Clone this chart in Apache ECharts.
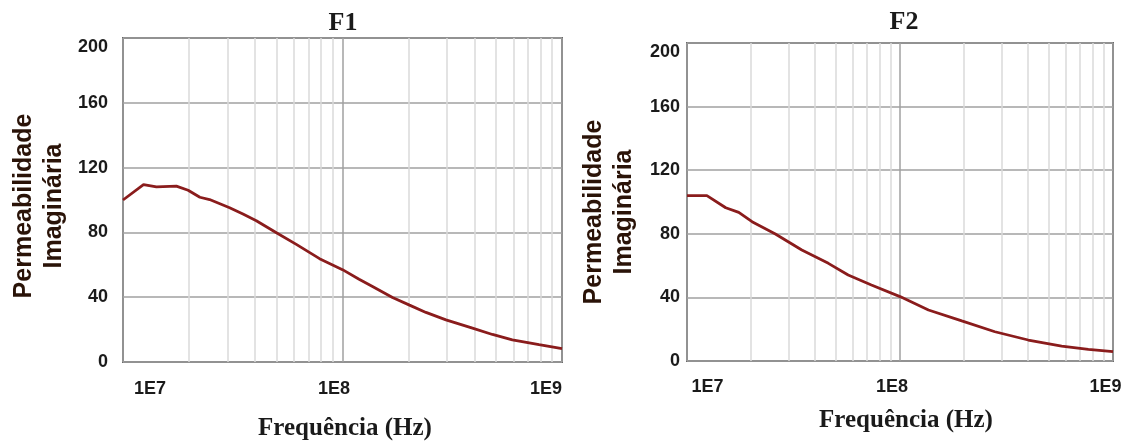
<!DOCTYPE html>
<html>
<head>
<meta charset="utf-8">
<script src="https://cdn.jsdelivr.net/npm/echarts@6/dist/echarts.min.js"></script>
<style>
html,body{margin:0;padding:0;background:#fff;}
#chart{width:1132px;height:446px;}
</style>
</head>
<body>
<div id="chart"></div>
<script>
// ---- data (frequency in Hz, imaginary permeability) ----
const F1_FREQ   = [1.0e7, 1.24e7, 1.42e7, 1.75e7, 1.98e7, 2.24e7, 2.48e7, 3.06e7, 3.52e7, 4.05e7, 5.0e7, 6.16e7, 7.86e7, 1.0e8, 1.19e8, 1.37e8, 1.69e8, 2.02e8, 2.4e8, 2.96e8, 3.91e8, 4.82e8, 5.94e8, 7.86e8, 1.0e9];
const F1_VALUES = [100,   109.5,  108.1,  108.6,  106,    101.7,  100.3,  95.2,   91.3,   87.2,   79.8,  72.6,   63.8,   57.0,  51.1,   46.6,   39.8,   35.1,   30.6,  26.0,   20.9,   17.0,   13.7,   10.7,   8.3];
const F2_FREQ   = [1.0e7, 1.24e7, 1.52e7, 1.75e7, 2.02e7, 2.6e7, 3.46e7, 4.61e7, 5.71e7, 7.34e7, 1.0e8, 1.36e8, 1.95e8, 2.79e8, 4.0e8, 5.74e8, 7.66e8, 1.0e9];
const F2_VALUES = [104,   104,    96.4,   93.5,   87.6,   79.9,  69.8,   61.4,   54.1,   47.8,   40.5,  32.1,   25.2,   18.4,   13.2,  9.4,    7.3,    5.9];
const MINOR_FREQS = [2e7, 3e7, 4e7, 5e7, 6e7, 7e7, 8e7, 9e7, 2e8, 3e8, 4e8, 5e8, 6e8, 7e8, 8e8, 9e8];
const X_TICK_LABELS = ['1E7', '1E8', '1E9'];
const Y_TICKS = [0, 40, 80, 120, 160, 200];
const TITLES = ['F1', 'F2'];
const X_NAME = 'Frequência (Hz)';
const Y_NAME = 'Permeabilidade\nImaginária';

const LINE_COLOR = '#8a1c1c';
const TXT = '#1a1a1a';
const labelFont = {fontFamily: 'Liberation Sans', fontWeight: 'bold', fontSize: 18, color: TXT};

function pair(xs, ys) { return xs.map((x, i) => [x, ys[i]]); }

function richFor(shifts) {
  const r = {};
  shifts.forEach((s, i) => {
    r['t' + i] = Object.assign({}, labelFont, {padding: s >= 0 ? [0, 0, 0, 2 * s] : [0, -2 * s, 0, 0]});
  });
  return r;
}

function xAxisFor(g, shifts, labelMargin, nameGap, namePad) {
  return {
    gridIndex: g, type: 'log', logBase: 10, min: 1e7, max: 1e9,
    axisLine: {show: false}, axisTick: {show: false},
    splitLine: {show: true, lineStyle: {color: '#a0a0a0', width: 1.5}},
    axisLabel: {
      margin: labelMargin, showMinLabel: true, showMaxLabel: true,
      formatter: function (v) {
        const i = Math.round(Math.log10(v)) - 7;
        return '{t' + i + '|' + X_TICK_LABELS[i] + '}';
      },
      rich: richFor(shifts)
    },
    name: X_NAME, nameLocation: 'middle', nameGap: nameGap,
    nameTextStyle: {fontFamily: 'Liberation Serif', fontWeight: 'bold', fontSize: 25, color: TXT, padding: namePad}
  };
}

function yAxisFor(g, margin, nameGap, namePad) {
  return {
    gridIndex: g, type: 'value', min: Y_TICKS[0], max: Y_TICKS[Y_TICKS.length - 1], interval: 40,
    axisLine: {show: false}, axisTick: {show: false},
    splitLine: {show: true, lineStyle: {color: '#a0a0a0', width: 1.5}},
    axisLabel: Object.assign({margin: margin, verticalAlignMaxLabel: 'top', showMinLabel: true, showMaxLabel: true}, labelFont),
    name: Y_NAME, nameLocation: 'middle', nameRotate: 90, nameGap: nameGap,
    nameTextStyle: {fontFamily: 'Liberation Sans', fontWeight: 'bold', fontSize: 25, lineHeight: 30, color: '#2a1308', padding: namePad}
  };
}

function seriesFor(g, xs, ys) {
  return {
    type: 'line', xAxisIndex: g, yAxisIndex: g, z: 3,
    data: pair(xs, ys), showSymbol: false, symbol: 'none',
    lineStyle: {color: LINE_COLOR, width: 2.8}, itemStyle: {color: LINE_COLOR},
    markLine: {
      silent: true, symbol: 'none', z: 1, animation: false,
      label: {show: false},
      lineStyle: {color: '#dadada', width: 1.5, type: 'solid'},
      data: MINOR_FREQS.map(f => ({xAxis: f}))
    }
  };
}

const chart = echarts.init(document.getElementById('chart'), null, {renderer: 'canvas'});
chart.setOption({
  animation: false,
  backgroundColor: '#ffffff',
  title: [
    {text: TITLES[0], left: 343, top: 10, textAlign: 'center', padding: 0,
     textStyle: {fontFamily: 'Liberation Serif', fontWeight: 'bold', fontSize: 26, color: TXT}},
    {text: TITLES[1], left: 904, top: 9, textAlign: 'center', padding: 0,
     textStyle: {fontFamily: 'Liberation Serif', fontWeight: 'bold', fontSize: 26, color: TXT}}
  ],
  grid: [
    {left: 123, top: 38, width: 439, height: 325, show: true, borderColor: '#6a6a6a', borderWidth: 2, backgroundColor: '#fff'},
    {left: 687, top: 43, width: 426, height: 318, show: true, borderColor: '#6a6a6a', borderWidth: 2, backgroundColor: '#fff'}
  ],
  xAxis: [
    xAxisFor(0, [27, -8.5, -16], 18, 54, [0, 0, 0, 5]),
    xAxisFor(1, [20.5, -8, -7.5], 17, 47, [0, 0, 0, 12])
  ],
  yAxis: [
    yAxisFor(0, 15, 54, [0, 12, 0, 0]),
    yAxisFor(1, 7, 48, [0, 20, 0, 0])
  ],
  series: [
    seriesFor(0, F1_FREQ, F1_VALUES),
    seriesFor(1, F2_FREQ, F2_VALUES)
  ]
});
</script>
</body>
</html>
